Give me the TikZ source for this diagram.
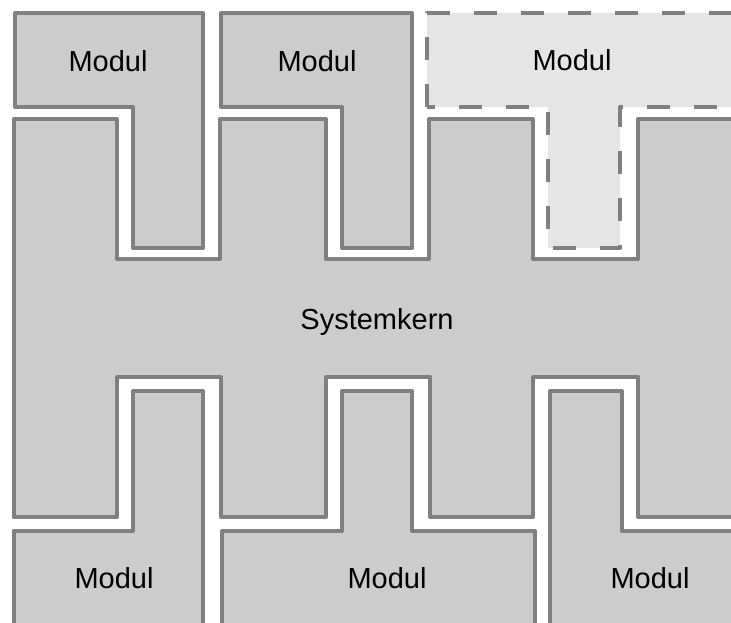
\documentclass[tikz,border=0pt]{standalone}
\usepackage{fontspec}
\setmainfont{Liberation Sans}
\begin{document}
\begin{tikzpicture}[x=1pt,y=-1pt,
  part/.style={draw=edgegray,fill=partfill,line width=4pt,line join=round},
  optpart/.style={draw=edgegray,fill=optfill,line width=4pt,line join=round,dash pattern=on 23pt off 24pt},
  lbl/.style={font=\fontsize{29}{35}\selectfont,text=black,inner sep=0pt}]
\definecolor{edgegray}{RGB}{128,128,128}
\definecolor{partfill}{RGB}{204,204,204}
\definecolor{optfill}{RGB}{229,229,229}
\useasboundingbox (0,0) rectangle (731,623);
\clip (0,0) rectangle (731,623);
% top modules
\draw[part] (15,13) -- (203,13) -- (203,248) -- (133,248) -- (133,107) -- (15,107) -- cycle;
\draw[part] (221,13) -- (412,13) -- (412,248) -- (342,248) -- (342,107) -- (221,107) -- cycle;
\draw[optpart] (427,107) -- (427,13) -- (760,13) -- (760,107) -- (620,107) -- (620,248) -- (548,248) -- (548,107) -- cycle;
% kernel
\draw[part] (13.5,119) -- (117,119) -- (117,259) -- (220,259) -- (220,119) -- (326,119) -- (326,259) -- (429,259) -- (429,119) -- (533,119) -- (533,259) -- (638,259) -- (638,119) -- (760,119)
  -- (760,517) -- (638,517) -- (638,377) -- (533,377) -- (533,517) -- (430,517) -- (430,377) -- (326,377) -- (326,517) -- (221,517) -- (221,377) -- (117,377) -- (117,517) -- (13.5,517) -- cycle;
% bottom modules
\draw[part] (13.5,531) -- (133,531) -- (133,391) -- (203,391) -- (203,650) -- (13.5,650) -- cycle;
\draw[part] (222,531) -- (342,531) -- (342,391) -- (412,391) -- (412,531) -- (535,531) -- (535,650) -- (222,650) -- cycle;
\draw[part] (550,391) -- (622,391) -- (622,531) -- (760,531) -- (760,650) -- (550,650) -- cycle;
% labels
\node[lbl] (t1) at (108,61) {Modul};
\node[lbl] (t2) at (317,61) {Modul};
\node[lbl] (t3) at (572,60) {Modul};
\node[lbl] (k) at (377,322) {Systemkern};
\node[lbl] (b1) at (114,578) {Modul};
\node[lbl] (b2) at (387,578) {Modul};
\node[lbl] (b3) at (650,578) {Modul};
\end{tikzpicture}
\end{document}
